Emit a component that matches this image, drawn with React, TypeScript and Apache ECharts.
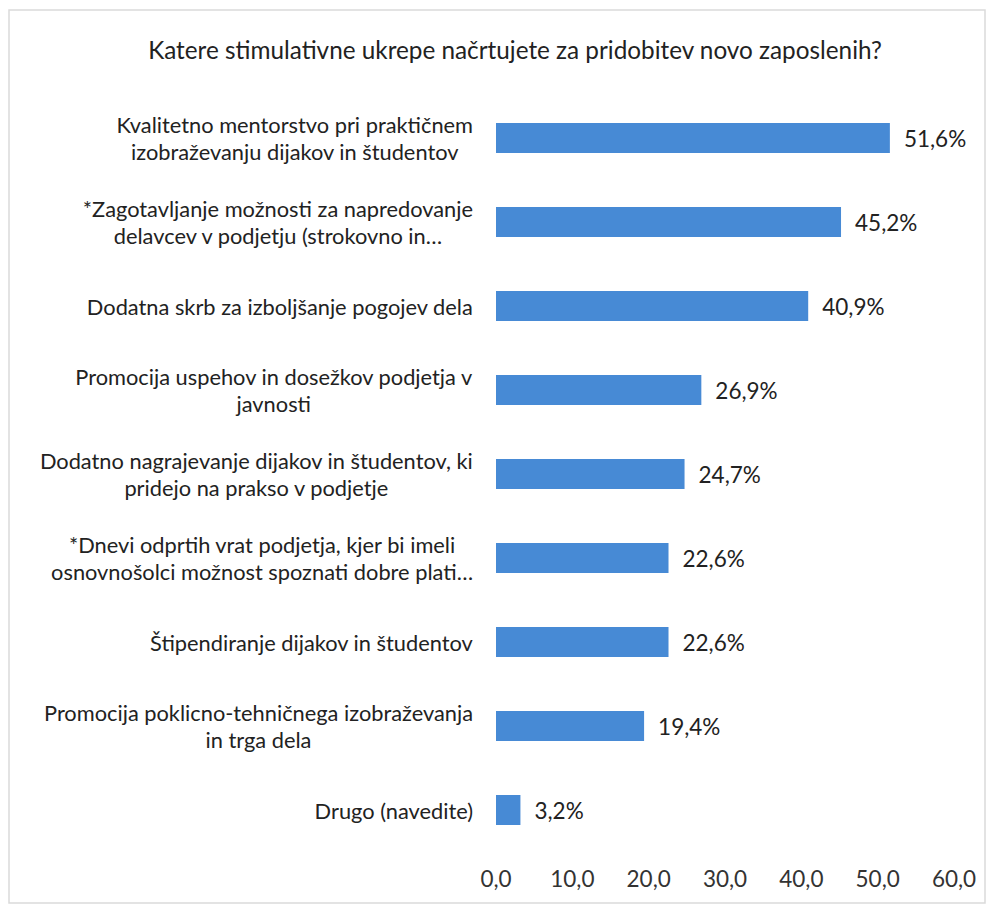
import React, { useEffect, useRef } from "react";
import * as echarts from "echarts";

const titleText = "Katere stimulativne ukrepe načrtujete za pridobitev novo zaposlenih?";

const categories = [
  "Kvalitetno mentorstvo pri praktičnem\nizobraževanju dijakov in študentov",
  "*Zagotavljanje možnosti za napredovanje\ndelavcev v podjetju (strokovno in…",
  "Dodatna skrb za izboljšanje pogojev dela",
  "Promocija uspehov in dosežkov podjetja v\njavnosti",
  "Dodatno nagrajevanje dijakov in študentov, ki\npridejo na prakso v podjetje",
  "*Dnevi odprtih vrat podjetja, kjer bi imeli\nosnovnošolci možnost spoznati dobre plati…",
  "Štipendiranje dijakov in študentov",
  "Promocija poklicno-tehničnega izobraževanja\nin trga dela",
  "Drugo (navedite)",
];

const values = [51.6, 45.2, 40.9, 26.9, 24.7, 22.6, 22.6, 19.4, 3.2];

const axisMin = 0;
const axisMax = 60;
const axisStep = 10;

const FONT = "Lato, 'Noto Sans', sans-serif";

export default function App() {
  const ref = useRef<HTMLDivElement>(null);

  useEffect(() => {
    if (!ref.current) return;
    const chart = echarts.init(ref.current, undefined, { renderer: "svg" });
    chart.setOption({
      animation: false,
      backgroundColor: "#ffffff",
      title: {
        text: titleText,
        left: 502,
        top: 24,
        textAlign: "center",
        textStyle: {
          fontFamily: FONT,
          fontSize: 24.3,
          fontWeight: "normal",
          color: "#222222",
        },
      },
      graphic: [
        {
          type: "rect",
          shape: { x: 1, y: 2, width: 976, height: 893 },
          style: { fill: "none", stroke: "#dadada", lineWidth: 1.5 },
          silent: true,
        },
      ],
      grid: { left: 488, right: 33, top: 88, bottom: 52, containLabel: false },
      xAxis: {
        type: "value",
        min: axisMin,
        max: axisMax,
        interval: axisStep,
        axisLine: { show: false },
        axisTick: { show: false },
        splitLine: { show: false },
        axisLabel: {
          margin: 15,
          fontFamily: FONT,
          fontSize: 22.5,
          color: "#333333",
          formatter: (v: number) => v.toFixed(1).replace(".", ","),
        },
      },
      yAxis: {
        type: "category",
        inverse: true,
        data: categories,
        axisLine: { show: false },
        axisTick: { show: false },
        splitLine: { show: false },
        axisLabel: {
          margin: 23,
          fontFamily: FONT,
          fontSize: 21.8,
          color: "#222222",
          lineHeight: 26.2,
          formatter: (v: string) =>
            v
              .split("\n")
              .map((l) => "{c|" + l + "}")
              .join("\n"),
          rich: {
            c: {
              align: "center",
              fontFamily: FONT,
              fontSize: 21.8,
              color: "#222222",
              lineHeight: 26.2,
            },
          },
        },
      },
      series: [
        {
          type: "bar",
          data: values,
          barWidth: 30,
          itemStyle: { color: "#478ad5" },
          label: {
            show: true,
            position: "right",
            distance: 14,
            fontFamily: FONT,
            fontSize: 22.5,
            color: "#222222",
            formatter: (p: any) => p.value.toFixed(1).replace(".", ",") + "%",
          },
        },
      ],
    });
    return () => chart.dispose();
  }, []);

  return <div ref={ref} style={{ width: 979, height: 896 }} />;
}
